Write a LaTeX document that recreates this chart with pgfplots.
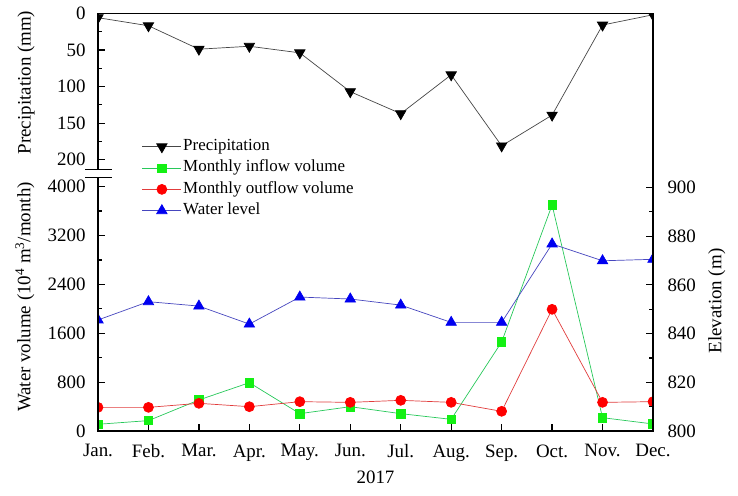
\documentclass[border=0pt]{standalone}
\usepackage{pgfplots}
\pgfplotsset{compat=1.18}
\usepackage{fontspec}
\setmainfont{Liberation Serif}
\definecolor{pline}{RGB}{70,70,70}
\definecolor{gline}{RGB}{40,200,90}
\definecolor{gmark}{RGB}{20,240,20}
\definecolor{rline}{RGB}{225,60,60}
\definecolor{rmark}{RGB}{255,0,0}
\definecolor{bline}{RGB}{70,70,190}
\definecolor{bmark}{RGB}{0,0,240}
\pgfplotsset{
  every axis/.append style={
    scale only axis, width=555bp, xmin=0, xmax=11, anchor=south west,
    axis line style={draw=none},
    tick style={black, line width=1.2bp},
    major tick length=7bp, minor tick length=4bp, tick align=inside,
    clip marker paths=true,
    /pgf/number format/assume math mode=true,
    /pgf/number format/1000 sep={},
    ticklabel style={font=\fontsize{19}{22}\selectfont},
  },
  precip/.style={pline, line width=0.7bp, mark=triangle*, mark size=6bp, mark options={black, fill=black, rotate=180, solid}},
  inflow/.style={gline, line width=0.7bp, mark=square*, mark size=4.2bp, mark options={gmark, fill=gmark, solid}},
  outflow/.style={rline, line width=0.7bp, mark=*, mark size=5bp, mark options={rmark, fill=rmark, solid}},
  wlevel/.style={bline, line width=0.7bp, mark=triangle*, mark size=6bp, mark options={bmark, fill=bmark, solid}},
}
\begin{document}
\begin{tikzpicture}
\path[use as bounding box] (0bp,0bp) rectangle (738bp,496bp);
% top panel: precipitation
\begin{axis}[at={(98bp,326.7bp)}, height=156bp, ymin=0, ymax=213, y dir=reverse,
  ytick={0,50,...,200}, minor ytick={25,75,125,175}, ytick pos=left, xtick=\empty,
  yticklabel style={xshift=-9bp}]
\addplot[precip] coordinates {(0,6) (1,17) (2,49) (3,45) (4,54) (5,107) (6,137) (7,84) (8,181) (9,139) (10,16) (11,2)};
\end{axis}
% bottom panel: volumes
\begin{axis}[at={(98bp,65bp)}, height=253.5bp, ymin=0, ymax=4150,
  ytick={0,800,...,4000}, minor ytick={400,1200,...,3600}, ytick pos=left,
  xtick={0,...,11}, xtick pos=bottom,
  xticklabels={Jan.,Feb.,Mar.,Apr.,May.,Jun.,Jul.,Aug.,Sep.,Oct.,Nov.,Dec.},
  yticklabel style={xshift=-9bp}, xticklabel style={yshift=-10bp},
  legend cell align=left,
  legend style={at={(0.079,1.164)}, anchor=north west, draw=none, fill=none, inner sep=0pt,
    font=\fontsize{17}{20}\selectfont, row sep=0pt,
    nodes={inner sep=1.5bp, text height=13bp, text depth=5.3bp}},
  legend image code/.code={\draw[mark repeat=2,mark phase=2] plot coordinates {(0bp,0bp) (19.5bp,0bp) (39bp,0bp)};},
  ]
\addlegendimage{precip}
\addplot[inflow] coordinates {(0,110) (1,170) (2,508) (3,791) (4,284) (5,398) (6,284) (7,191) (8,1457) (9,3700) (10,218) (11,115)};
\addplot[outflow] coordinates {(0,387) (1,387) (2,453) (3,398) (4,480) (5,469) (6,502) (7,469) (8,322) (9,1992) (10,469) (11,480)};
\addlegendimage{wlevel}
\legend{Precipitation, Monthly inflow volume, Monthly outflow volume, Water level}
\end{axis}
% right axis: elevation
\begin{axis}[at={(98bp,65bp)}, height=253.5bp, ymin=800, ymax=904.1,
  ytick={800,820,...,900}, minor ytick={810,830,...,890}, ytick pos=right, yticklabel pos=right,
  xtick=\empty, yticklabel style={xshift=11bp}]
\addplot[wlevel] coordinates {(0,845.6) (1,853.1) (2,851.3) (3,843.9) (4,855) (5,854.2) (6,851.7) (7,844.6) (8,844.6) (9,876.8) (10,869.9) (11,870.5)};
\end{axis}
% frame
\draw[line width=1.5bp] (98bp,326.7bp) -- (98bp,482.5bp) -- (653bp,482.5bp) -- (653bp,65bp) -- (98bp,65bp) -- (98bp,318.7bp);
\draw[line width=1.5bp] (85bp,326.7bp) -- (112bp,326.7bp);
\draw[line width=1.5bp] (85bp,318.7bp) -- (112bp,318.7bp);
% labels
\node[rotate=90, font=\fontsize{19}{22}\selectfont] at (26bp,413.5bp) {Precipitation (mm)};
\node[rotate=90, font=\fontsize{19}{22}\selectfont] at (25bp,199bp) {Water volume (10\textsuperscript{4} m\textsuperscript{3}/month)};
\node[rotate=90, font=\fontsize{19}{22}\selectfont] at (716.7bp,195bp) {Elevation (m)};
\node[font=\fontsize{19}{22}\selectfont] at (375.5bp,19bp) {2017};
\end{tikzpicture}
\end{document}
